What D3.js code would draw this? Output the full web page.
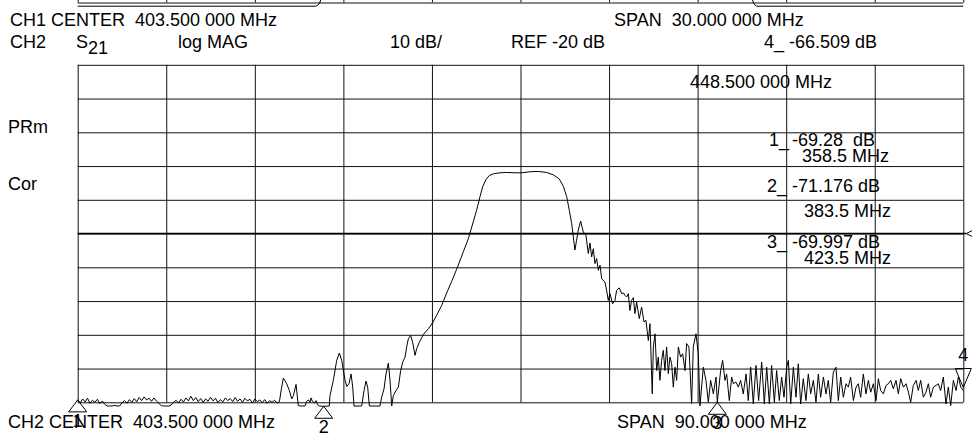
<!DOCTYPE html>
<html>
<head>
<meta charset="utf-8">
<script src="https://cdn.jsdelivr.net/npm/d3@7"></script>
<style>
  body { margin: 0; background: #fff; }
  svg text { font-family: "Liberation Sans", Arial, sans-serif; font-size: 18px; fill: #000; white-space: pre; }
</style>
</head>
<body>
<div id="plot"></div>
<script>
// CH2 trace : S21 log MAG, [MHz, dB]
var trace = [
  [358.5,-69.3],[358.75,-70.2],[359.0,-69.0],[359.25,-69.9],[359.5,-68.8],[359.75,-70.3],[360.0,-69.4],[360.25,-70.0],
  [360.5,-69.1],[360.75,-70.4],[361.0,-69.6],[361.25,-70.6],[361.5,-71.1],[361.75,-71.1],[362.0,-71.1],[362.25,-70.9],
  [362.5,-71.1],[362.75,-71.1],[363.0,-70.2],[363.25,-69.5],[363.5,-70.3],[363.75,-69.2],[364.0,-70.0],[364.25,-68.9],
  [364.5,-69.8],[364.75,-68.6],[365.0,-69.5],[365.25,-68.4],[365.5,-69.3],[365.75,-68.8],[366.0,-69.7],[366.25,-68.7],
  [366.5,-69.6],[366.75,-70.3],[367.0,-71.0],[367.25,-71.1],[367.5,-71.1],[367.75,-71.1],[368.0,-70.8],[368.25,-70.0],
  [368.5,-69.4],[368.75,-70.2],[369.0,-69.1],[369.25,-69.9],[369.5,-68.7],[369.75,-69.6],[370.0,-68.2],[370.25,-69.5],
  [370.5,-68.6],[370.75,-69.8],[371.0,-68.9],[371.25,-70.0],[371.5,-69.0],[371.75,-69.7],[372.0,-68.5],[372.25,-69.6],
  [372.5,-68.8],[372.75,-70.1],[373.0,-69.2],[373.25,-69.9],[373.5,-68.7],[373.75,-69.5],[374.0,-68.9],[374.25,-69.8],
  [374.5,-68.6],[374.75,-69.7],[375.0,-69.0],[375.25,-70.0],[375.5,-68.8],[375.75,-69.6],[376.0,-69.1],[376.25,-70.2],
  [376.5,-69.0],[376.75,-69.8],[377.0,-69.3],[377.25,-70.1],[377.5,-69.2],[377.75,-70.3],[378.0,-69.5],[378.25,-70.0],
  [378.5,-69.4],[378.75,-70.2],[379.0,-69.8],[379.2,-66.0],[379.4,-62.8],[379.74,-64.5],[380.01,-66.5],[380.25,-69.0],
  [380.42,-68.0],[380.69,-64.7],[380.92,-71.0],[381.2,-71.1],[381.6,-71.1],[381.77,-69.7],[381.94,-69.3],[382.11,-70.0],
  [382.21,-68.7],[382.35,-69.7],[382.55,-70.2],[382.72,-69.5],[382.89,-70.7],[383.06,-71.1],[383.5,-71.176],[384.07,-71.1],
  [384.14,-68.0],[384.48,-63.5],[384.82,-57.6],[385.09,-55.4],[385.33,-57.6],[385.67,-63.5],[385.84,-65.3],[386.07,-64.5],
  [386.28,-61.6],[386.45,-65.5],[386.58,-71.1],[387.36,-71.1],[387.6,-66.5],[387.8,-63.7],[387.97,-65.5],[388.14,-71.1],
  [389.22,-71.1],[389.39,-68.5],[389.63,-66.0],[389.83,-61.6],[390.07,-58.4],[390.24,-63.5],[390.41,-71.1],[390.58,-68.0],
  [390.85,-66.5],[391.09,-65.5],[391.32,-60.6],[391.53,-58.1],[391.77,-56.6],[391.93,-53.6],[392.1,-51.2],[392.34,-50.2],
  [392.54,-52.2],[392.78,-56.1],[392.95,-54.1],[393.22,-52.2],[393.63,-49.9],[394.14,-48.2],[394.58,-46.4],[394.98,-44.2],
  [395.49,-41.3],[396.0,-37.6],[396.5,-34.2],[397.01,-30.6],[397.69,-25.4],[398.2,-21.5],[398.7,-16.5],[399.04,-13.1],
  [399.38,-9.1],[399.65,-6.2],[399.99,-4.0],[400.33,-2.8],[400.74,-2.3],[401.41,-2.0],[402.09,-1.9],[402.94,-2.0],
  [403.62,-2.0],[404.46,-1.7],[405.31,-1.6],[406.16,-1.9],[406.83,-2.6],[407.44,-3.8],[407.85,-6.0],[408.19,-9.0],
  [408.46,-13.1],[408.7,-17.0],[408.87,-21.0],[409.03,-24.9],[409.2,-22.0],[409.37,-19.0],[409.61,-16.3],[409.88,-19.5],
  [410.15,-20.5],[410.39,-25.9],[410.56,-22.8],[410.73,-26.9],[410.9,-24.5],[411.07,-28.9],[411.24,-27.4],[411.41,-30.9],
  [411.58,-29.4],[411.75,-33.4],[412.08,-34.4],[412.25,-36.8],[412.42,-39.8],[412.59,-37.8],[412.86,-40.8],[413.1,-39.8],
  [413.27,-36.8],[413.54,-36.1],[413.78,-37.8],[413.95,-37.6],[414.12,-38.3],[414.29,-38.8],[414.46,-37.8],[414.62,-42.8],
  [414.79,-39.8],[414.96,-39.0],[415.13,-43.7],[415.3,-40.3],[415.57,-45.2],[415.81,-41.8],[416.05,-46.2],[416.25,-45.7],
  [416.49,-51.7],[416.66,-46.7],[416.89,-67.5],[417.0,-53.6],[417.17,-49.7],[417.34,-60.6],[417.5,-56.6],[417.67,-63.5],
  [417.84,-57.6],[418.01,-54.6],[418.18,-60.6],[418.35,-53.6],[418.52,-61.5],[418.69,-56.6],[418.86,-58.6],[419.03,-65.5],
  [419.2,-59.6],[419.37,-63.5],[419.54,-53.6],[419.77,-56.6],[419.98,-55.6],[420.22,-60.6],[420.38,-52.6],[420.62,-53.6],
  [420.89,-70.4],[421.06,-53.6],[421.33,-49.7],[421.57,-55.6],[421.74,-71.1],[422.08,-59.6],[422.35,-63.5],[422.59,-70.0],
  [422.82,-63.5],[423.1,-67.5],[423.37,-62.5],[423.5,-69.997],[423.84,-60.6],[424.04,-57.6],[424.28,-63.5],[424.45,-61.6],
  [424.72,-69.5],[424.96,-62.5],[425.13,-64.5],[425.4,-64.0],[425.64,-65.5],[425.87,-63.5],[426.14,-67.5],[426.42,-61.6],
  [426.65,-69.5],[426.89,-59.6],[427.16,-70.5],[427.43,-59.1],[427.7,-69.5],[428.01,-58.1],[428.28,-70.5],[428.52,-59.6],
  [428.79,-70.5],[429.02,-59.1],[429.3,-70.0],[429.53,-60.6],[429.8,-69.5],[430.04,-62.5],[430.28,-68.5],[430.55,-59.6],
  [430.72,-57.6],[430.96,-70.5],[431.23,-59.6],[431.5,-68.5],[431.73,-58.6],[431.97,-70.5],[432.24,-63.0],[432.51,-69.5],
  [432.75,-61.6],[432.99,-67.5],[433.26,-63.5],[433.53,-70.0],[433.77,-61.6],[434.0,-68.5],[434.28,-62.5],[434.55,-67.5],
  [434.78,-63.5],[435.02,-70.0],[435.29,-61.1],[435.56,-59.6],[435.8,-69.5],[436.04,-62.5],[436.31,-68.5],[436.58,-64.5],
  [436.82,-65.5],[437.05,-62.5],[437.33,-69.5],[437.6,-65.5],[437.83,-64.5],[438.07,-68.5],[438.34,-61.6],[438.61,-67.5],
  [438.85,-63.5],[439.09,-67.0],[439.36,-64.5],[439.63,-69.5],[439.87,-63.0],[440.1,-66.5],[440.37,-67.5],[440.65,-65.0],
  [440.88,-64.5],[441.12,-63.5],[441.39,-66.0],[441.66,-63.5],[441.9,-67.5],[442.14,-63.0],[442.41,-65.5],[442.68,-64.5],
  [442.92,-67.0],[443.15,-70.0],[443.42,-65.0],[443.7,-63.5],[443.93,-66.5],[444.17,-63.5],[444.44,-68.5],[444.71,-67.0],
  [444.95,-64.5],[445.18,-68.5],[445.46,-65.5],[445.73,-65.0],[445.96,-64.5],[446.2,-66.5],[446.47,-62.5],[446.74,-70.5],
  [446.98,-65.5],[447.22,-71.0],[447.49,-63.5],[447.76,-66.5],[448.0,-62.5],[448.24,-65.5],[448.5,-66.509]
];

// CH1 trace, only its floor shows at the very top of the picture
var ch1Trace = [
  [388.5,-71.1],[396.55,-71.1],[396.62,-70.9],[396.68,-70.4],[396.72,-69.6],[396.75,-68.6],[396.78,-67.5],
  [403.5,-2.0],
  [411.3,-67.5],[411.35,-69.0],[411.4,-70.2],[411.45,-70.8],[411.5,-71.1],[418.5,-71.1]
];

var gridMHz = [358.5, 367.5, 376.5, 385.5, 394.5, 403.5, 412.5, 421.5, 430.5, 439.5, 448.5];
var ch1GridMHz = [388.5, 391.5, 394.5, 397.5, 400.5, 403.5, 406.5, 409.5, 412.5, 415.5, 418.5];
var gridDB = [30, 20, 10, 0, -10, -20, -30, -40, -50, -60, -70];

var markers = [
  {n: "1", mhz: 358.5, db: -69.28,  value: "-69.28  dB", freq: "358.5 MHz"},
  {n: "2", mhz: 383.5, db: -71.176, value: "-71.176 dB", freq: "383.5 MHz"},
  {n: "3", mhz: 423.5, db: -69.997, value: "-69.997 dB", freq: "423.5 MHz"},
  {n: "4", mhz: 448.5, db: -66.509, value: "-66.509 dB", freq: "448.500 000 MHz"}
];

var W = 972, H = 445;
var gL = 77.7, gR = 963.3, gT = 64.8, gB = 402.3;

var svg = d3.select("#plot").append("svg")
  .attr("width", W).attr("height", H)
  .style("background", "#fff");

var x = d3.scaleLinear().domain([358.5, 448.5]).range([gL, gR]);
var y = d3.scaleLinear().domain([-70, 30]).range([gB, gT]);

// CH1 graph sits above, only its bottom edge is left in view
var x1 = d3.scaleLinear().domain([388.5, 418.5]).range([gL, gR]);
var y1 = d3.scaleLinear().domain([-70, 30]).range([2.5, 2.5 - (gB - gT)]);

function grid(g, xs, ys, xt, yt) {
  g.append("g")
    .attr("transform", "translate(0," + ys(-70) + ")")
    .call(d3.axisBottom(xs).tickValues(xt).tickSize(-(gB - gT)).tickFormat(""))
    .call(function(a) { a.select(".domain").remove(); });
  g.append("g")
    .attr("transform", "translate(" + gL + ",0)")
    .call(d3.axisLeft(ys).tickValues(yt).tickSize(-(gR - gL)).tickFormat(""))
    .call(function(a) { a.select(".domain").remove(); });
  g.selectAll(".tick line").attr("stroke", "#111").attr("stroke-width", 1);
}

grid(svg.append("g"), x1, y1, ch1GridMHz, gridDB);
grid(svg.append("g"), x, y, gridMHz, gridDB);

// reference line (REF -20 dB) a little heavier, with the "<" at the right
svg.append("line")
  .attr("x1", gL).attr("x2", gR + 3)
  .attr("y1", y(-20)).attr("y2", y(-20))
  .attr("stroke", "#000").attr("stroke-width", 1.6);
svg.append("path")
  .attr("d", "M" + (gR + 9) + "," + (y(-20) - 3) + "L" + (gR + 3) + "," + y(-20) + "L" + (gR + 9) + "," + (y(-20) + 3))
  .attr("fill", "none").attr("stroke", "#000").attr("stroke-width", 1);

var line = d3.line().x(function(d) { return x(d[0]); }).y(function(d) { return y(d[1]); });
var line1 = d3.line().x(function(d) { return x1(d[0]); }).y(function(d) { return y1(d[1]); });

svg.append("path").datum(ch1Trace)
  .attr("d", line1).attr("fill", "none").attr("stroke", "#000").attr("stroke-width", 1);

svg.append("path").datum(trace)
  .attr("d", line).attr("fill", "none").attr("stroke", "#000")
  .attr("stroke-width", 1).attr("stroke-linejoin", "round");

// marker triangles
markers.forEach(function(m) {
  var mx = x(m.mhz), my = y(m.db);
  if (m.n === "4") {
    // active marker, drawn above the trace pointing down
    svg.append("path")
      .attr("d", "M" + (mx - 8) + "," + (my - 22) + "L" + (mx + 8) + "," + (my - 22) + "L" + mx + "," + (my - 3) + "Z")
      .attr("fill", "none").attr("stroke", "#000").attr("stroke-width", 1);
    svg.append("text").attr("x", mx).attr("y", my - 30).attr("text-anchor", "middle").text(m.n);
  } else {
    svg.append("path")
      .attr("d", "M" + mx + "," + my + "L" + (mx + 9) + "," + (my + 12) + "L" + (mx - 9) + "," + (my + 12) + "Z")
      .attr("fill", "none").attr("stroke", "#000").attr("stroke-width", 1);
    svg.append("text").attr("x", mx).attr("y", my + 27).attr("text-anchor", "middle").text(m.n);
  }
});

function label(tx, ty, s) {
  svg.append("text").attr("x", tx).attr("y", ty).text(s);
}

// header
label(10, 26, "CH1 CENTER  403.500 000 MHz");
label(614, 26, "SPAN  30.000 000 MHz");
label(10, 48, "CH2");
label(76, 48, "S");
label(88, 54, "21");
label(178, 48, "log MAG");
label(390, 48, "10 dB/");
label(511, 48, "REF -20 dB");
label(764, 48, markers[3].n + "_ " + markers[3].value);
label(690, 88, markers[3].freq);

label(8, 133, "PRm");
label(8, 190, "Cor");

// marker readouts
var readY = [[146, 162], [192, 217], [248, 264]];
markers.slice(0, 3).forEach(function(m, i) {
  label(m.n === "1" ? 769 : 767, readY[i][0], m.n + "_");
  label(792, readY[i][0], m.value);
  label(m.n === "1" ? 802 : 804, readY[i][1], m.freq);
});

// footer
label(8, 428, "CH2 CENTER  403.500 000 MHz");
label(617, 428, "SPAN  90.000 000 MHz");
</script>
</body>
</html>
